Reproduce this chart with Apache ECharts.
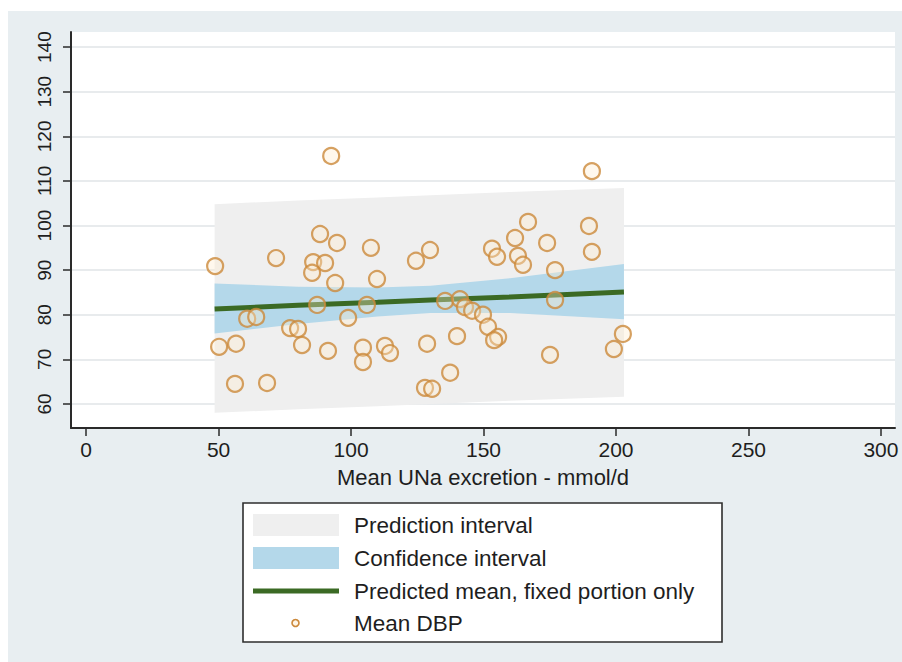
<!DOCTYPE html>
<html>
<head>
<meta charset="utf-8">
<script src="https://cdn.jsdelivr.net/npm/echarts@6/dist/echarts.min.js"></script>
<style>
  html, body { margin: 0; padding: 0; background: #ffffff; }
  #bg { position: absolute; left: 8px; top: 11px; width: 894px; height: 651px; background: #e8eef1; }
  #chart { position: absolute; left: 0; top: 0; width: 902px; height: 662px; }
</style>
</head>
<body>
<div id="bg"></div>
<div id="chart"></div>
<script>
// ---- data ----
const X_TICKS = [0, 50, 100, 150, 200, 250, 300];
const Y_TICKS = [60, 70, 80, 90, 100, 110, 120, 130, 140];

// Observed points: mean UNa excretion (mmol/d) vs mean DBP
const UNA = [48.7, 50.2, 56.6, 56.2, 60.8, 64.2, 68.3, 71.7, 77.0, 80.0,
             81.5, 85.7, 90.2, 85.3, 87.2, 88.3, 91.3, 92.5, 94.0, 94.7,
             98.9, 104.5, 104.5, 106.0, 107.5, 109.8, 112.8, 114.7, 124.5, 128.7,
             129.8, 127.9, 130.6, 135.5, 137.4, 140.0, 141.1, 143.0, 145.7, 149.8,
             151.7, 153.2, 155.1, 155.5, 154.0, 161.9, 163.0, 164.9, 166.8, 174.0,
             175.1, 177.0, 177.0, 189.8, 190.9, 190.9, 199.2, 202.6];
const DBP = [90.9, 72.8, 73.5, 64.5, 79.1, 79.5, 64.7, 92.7, 77.0, 76.8,
             73.2, 91.8, 91.6, 89.4, 82.2, 98.1, 71.9, 115.6, 87.1, 96.1,
             79.3, 72.6, 69.4, 82.2, 95.0, 88.0, 73.0, 71.4, 92.1, 73.5,
             94.5, 63.6, 63.4, 83.1, 67.0, 75.2, 83.5, 81.7, 80.9, 80.0,
             77.3, 94.8, 93.0, 75.0, 74.3, 97.2, 93.2, 91.2, 100.8, 96.1,
             71.0, 90.0, 83.3, 99.9, 94.1, 112.2, 72.3, 75.7];

// Fitted line and intervals
const FIT_X    = [48.5, 80, 110, 130, 160, 203];
const FIT_MEAN = [81.3, 82.1, 82.8, 83.3, 84.0, 85.1];
const CI_LO    = [75.8, 77.9, 79.6, 80.4, 80.4, 79.0];
const CI_HI    = [87.0, 86.3, 86.1, 86.5, 88.2, 91.4];
const PI_LO    = [58.0, 58.8, 59.5, 60.0, 60.7, 61.6];
const PI_HI    = [104.8, 105.6, 106.3, 106.8, 107.5, 108.4];

const LEGEND_LABELS = ['Prediction interval', 'Confidence interval',
                       'Predicted mean, fixed portion only', 'Mean DBP'];
const X_TITLE = 'Mean UNa excretion - mmol/d';

// ---- styles ----
const FONT = '"Liberation Sans", Arial, Helvetica, sans-serif';
const C_PI = '#efefef';
const C_CI = '#b4d8ea';
const C_LINE = '#3b6a24';
const C_MARK = '#cc893b';
const C_AXIS = '#2a2a2a';
const C_TEXT = '#1e1e1e';

function band(lo, hi, color) {
  return {
    type: 'custom',
    silent: true,
    data: FIT_X.map((x, i) => [x, lo[i], hi[i]]),
    encode: { x: 0, y: [1, 2] },
    renderItem: function (params, api) {
      if (params.dataIndex !== 0) return null;
      const pts = [];
      for (let i = 0; i < FIT_X.length; i++) pts.push(api.coord([FIT_X[i], hi[i]]));
      for (let i = FIT_X.length - 1; i >= 0; i--) pts.push(api.coord([FIT_X[i], lo[i]]));
      return { type: 'polygon', shape: { points: pts }, style: { fill: color } };
    }
  };
}

const chart = echarts.init(document.getElementById('chart'), null, { renderer: 'svg' });

// legend geometry
const LX = 243, LY = 503, LW = 479, LH = 139;
const SW_X = 253, SW_W = 86, TX = 354;
const ROWS = [525, 558, 591, 623];

function legendText(i) {
  return { type: 'text', z: 101, x: TX, y: ROWS[i],
    style: { text: LEGEND_LABELS[i], fontSize: 22.5, fontFamily: FONT, fill: C_TEXT, verticalAlign: 'middle' } };
}

chart.setOption({
  backgroundColor: 'transparent',
  animation: false,
  grid: {
    left: 71, right: 7, top: 32, bottom: 234,
    show: true, backgroundColor: '#ffffff', borderWidth: 0
  },
  xAxis: {
    type: 'value',
    min: -5.7, max: 305.3,
    axisLine: { show: true, onZero: false, lineStyle: { color: C_AXIS, width: 2 } },
    axisTick: { show: true, customValues: X_TICKS, length: 8, lineStyle: { color: C_AXIS, width: 1.5 } },
    axisLabel: { customValues: X_TICKS, fontSize: 21, fontFamily: FONT, color: C_TEXT, margin: 11 },
    splitLine: { show: false },
    name: X_TITLE,
    nameLocation: 'middle',
    nameGap: 38,
    nameTextStyle: { fontSize: 22, fontFamily: FONT, color: C_TEXT }
  },
  yAxis: {
    type: 'value',
    min: 54.6, max: 143.4,
    axisLine: { show: true, onZero: false, lineStyle: { color: C_AXIS, width: 2 } },
    axisTick: { show: true, customValues: Y_TICKS, length: 8, lineStyle: { color: C_AXIS, width: 1.5 } },
    axisLabel: { customValues: Y_TICKS, rotate: 90, fontSize: 19, fontFamily: FONT, color: C_TEXT, margin: 17 },
    splitLine: { show: true, lineStyle: { color: '#e8ebed', width: 2 } }
  },
  series: [
    band(PI_LO, PI_HI, C_PI),
    band(CI_LO, CI_HI, C_CI),
    {
      type: 'line',
      data: FIT_X.map((x, i) => [x, FIT_MEAN[i]]),
      symbol: 'none',
      lineStyle: { color: C_LINE, width: 5 },
      silent: true
    },
    {
      type: 'scatter',
      data: UNA.map((x, i) => [x, DBP[i]]),
      symbol: 'circle',
      symbolSize: 16,
      itemStyle: { color: 'rgba(255,236,205,0.45)', borderColor: C_MARK, borderWidth: 2.2 },
      z: 5
    }
  ],
  graphic: [
    { type: 'rect', z: 100, shape: { x: LX, y: LY, width: LW, height: LH },
      style: { fill: '#ffffff', stroke: '#2e2e2e', lineWidth: 1.6 } },
    { type: 'rect', z: 101, shape: { x: SW_X, y: ROWS[0] - 11, width: SW_W, height: 22 },
      style: { fill: C_PI } },
    { type: 'rect', z: 101, shape: { x: SW_X, y: ROWS[1] - 11, width: SW_W, height: 22 },
      style: { fill: C_CI } },
    { type: 'line', z: 101, shape: { x1: SW_X, y1: ROWS[2], x2: SW_X + SW_W, y2: ROWS[2] },
      style: { stroke: C_LINE, lineWidth: 5 } },
    { type: 'circle', z: 101, shape: { cx: SW_X + SW_W / 2 - 0.5, cy: ROWS[3], r: 3.5 },
      style: { fill: 'rgba(255,236,205,0.5)', stroke: C_MARK, lineWidth: 1.6 } },
    legendText(0), legendText(1), legendText(2), legendText(3)
  ]
});
</script>
</body>
</html>
